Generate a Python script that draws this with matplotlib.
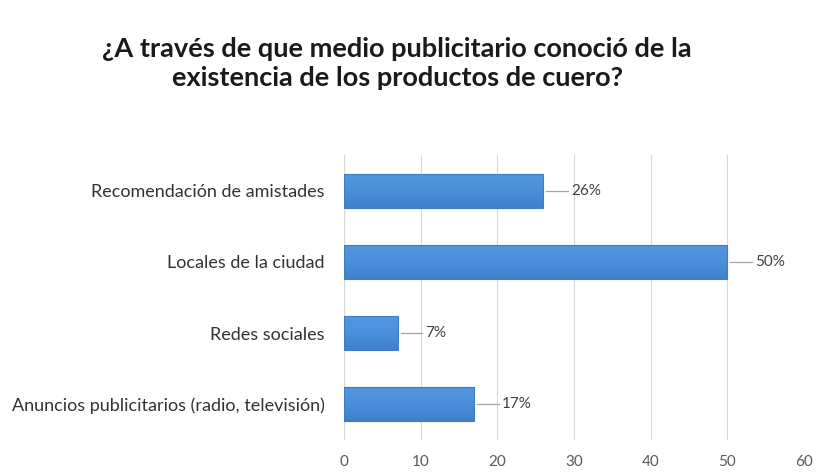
import numpy as np
import matplotlib.pyplot as plt
from matplotlib.colors import LinearSegmentedColormap

# survey results: advertising channel through which customers found the products
categorias = ["Anuncios publicitarios (radio, televisión)", "Redes sociales",
              "Locales de la ciudad", "Recomendación de amistades"]
porcentajes = [17, 7, 50, 26]
ticks_x = [0, 10, 20, 30, 40, 50, 60]

plt.rcParams['font.family'] = ['Lato', 'DejaVu Sans']

fig = plt.figure(figsize=(8.24, 4.76), dpi=100)
ax = fig.add_axes([0.4175, 0.076, 0.558, 0.598])

pos = list(range(len(categorias)))
alto = 0.48
bars = ax.barh(pos, porcentajes, height=alto, color="none", edgecolor="#3f7cc2",
               linewidth=0.8, zorder=4)

# soft vertical gradient fill for each bar, clipped to the bar rectangle
grad = LinearSegmentedColormap.from_list("azul", ["#3f80c9", "#4a90dc", "#5298df"])
col = np.linspace(0, 1, 64).reshape(-1, 1)
for b in bars:
    x0, y0 = b.get_x(), b.get_y()
    im = ax.imshow(col, cmap=grad, aspect="auto", origin="lower",
                   extent=(x0, x0 + b.get_width(), y0, y0 + b.get_height()), zorder=3)
    im.set_clip_path(b)

# leader line + value label next to each bar
for y, v in zip(pos, porcentajes):
    ax.plot([v + 0.4, v + 3.2], [y, y], color="#a6a6a6", lw=0.9, zorder=3)
    ax.text(v + 3.6, y, f"{v}%", va="center", ha="left", fontsize=11,
            color="#404040")

ax.set_xlim(0, 60)
ax.set_ylim(-0.5, 3.5)
ax.set_xticks(ticks_x)
ax.set_yticks(pos)
ax.set_yticklabels(categorias, fontsize=13, color="#333333")
ax.tick_params(axis='x', labelsize=11, labelcolor="#595959", length=0, pad=11)
ax.tick_params(axis='y', length=0, pad=14)
ax.grid(axis='x', color="#d9d9d9", lw=0.8, zorder=0)
for s in ax.spines.values():
    s.set_visible(False)
ax.axvline(0, color="#d9d9d9", lw=0.8, zorder=1)

fig.text(0.482, 0.866, "¿A través de que medio publicitario conoció de la\nexistencia de los productos de cuero?",
         ha="center", va="center", fontsize=19.5, fontweight="bold", color="#1a1a1a",
         linespacing=1.25)

fig.savefig("out.png", dpi=100, facecolor="white")
